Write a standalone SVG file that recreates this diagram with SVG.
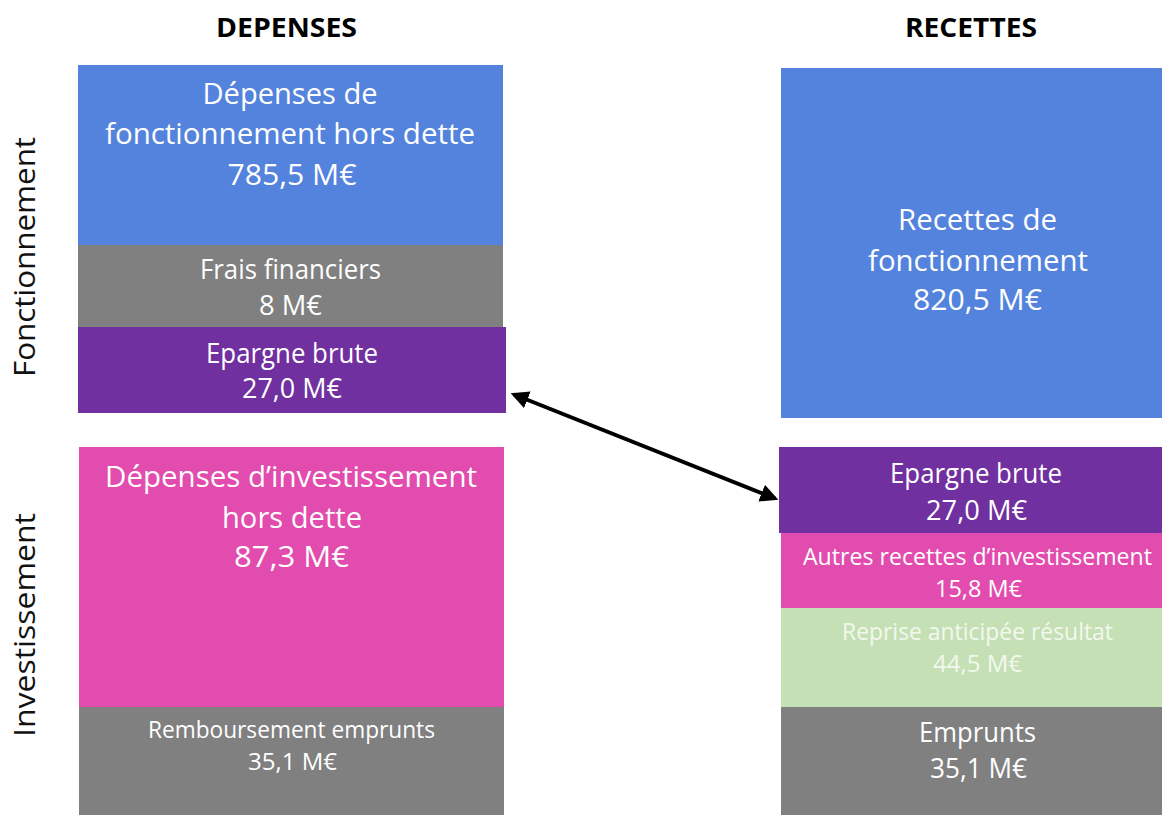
<svg xmlns="http://www.w3.org/2000/svg" width="1162" height="815" viewBox="0 0 1162 815">
<style>
text{font-family:"Open Sans","Noto Sans","Liberation Sans",sans-serif;text-anchor:middle;fill:#ffffff}
.hdr{font-weight:bold;font-size:26px;fill:#000000}
.side{font-size:30px;fill:#111111}
.big{font-size:30px}
.mid{font-size:26.5px}
.sm{font-size:23.5px}
.blue{fill:#5483DD}
.gray{fill:#808080}
.purple{fill:#7030A0}
.pink{fill:#E24CAE}
.green{fill:#C5E0B4}
.gtxt{fill:#F3F8EF}
</style>
<defs>
<marker id="ah" viewBox="0 0 10 10" refX="8" refY="5" markerWidth="4.5" markerHeight="4.5" orient="auto-start-reverse" markerUnits="strokeWidth">
<path d="M0,0 L10,5 L0,10 z" fill="#000000"/>
</marker>
</defs>
<rect width="1162" height="815" fill="#ffffff"/>
<g id="headers">
<text class="hdr" x="286.5" y="37" textLength="141" lengthAdjust="spacingAndGlyphs">DEPENSES</text>
<text class="hdr" x="971" y="37" textLength="132" lengthAdjust="spacingAndGlyphs">RECETTES</text>
</g>
<g id="side-labels">
<text class="side" transform="translate(35,257) rotate(-90)" x="0" y="0" textLength="240" lengthAdjust="spacingAndGlyphs">Fonctionnement</text>
<text class="side" transform="translate(35,625) rotate(-90)" x="0" y="0" textLength="224" lengthAdjust="spacingAndGlyphs">Investissement</text>
</g>
<g id="dep-fonct">
<rect class="blue" x="78" y="65" width="425" height="180"/>
<text class="big" x="290" y="104" textLength="175" lengthAdjust="spacingAndGlyphs">Dépenses de</text>
<text class="big" x="290" y="144" textLength="370" lengthAdjust="spacingAndGlyphs">fonctionnement hors dette</text>
<text class="big" x="292" y="185" textLength="129" lengthAdjust="spacingAndGlyphs">785,5 M€</text>
</g>
<g id="frais-fin">
<rect class="gray" x="78" y="245" width="425" height="82"/>
<text class="mid" x="290.5" y="279" textLength="181" lengthAdjust="spacingAndGlyphs">Frais financiers</text>
<text class="mid" x="290.5" y="315" textLength="63" lengthAdjust="spacingAndGlyphs">8 M€</text>
</g>
<g id="epargne-dep">
<rect class="purple" x="78" y="327" width="428" height="86"/>
<text class="mid" x="292" y="363" textLength="172" lengthAdjust="spacingAndGlyphs">Epargne brute</text>
<text class="mid" x="292" y="398" textLength="100" lengthAdjust="spacingAndGlyphs">27,0 M€</text>
</g>
<g id="dep-invest">
<rect class="pink" x="79" y="447" width="425" height="260"/>
<text class="big" x="291" y="487" textLength="372" lengthAdjust="spacingAndGlyphs">Dépenses d’investissement</text>
<text class="big" x="292" y="528" textLength="140" lengthAdjust="spacingAndGlyphs">hors dette</text>
<text class="big" x="291.5" y="567" textLength="115" lengthAdjust="spacingAndGlyphs">87,3 M€</text>
</g>
<g id="rembours">
<rect class="gray" x="79" y="707" width="425" height="108"/>
<text class="sm" x="291.5" y="738" textLength="287" lengthAdjust="spacingAndGlyphs">Remboursement emprunts</text>
<text class="sm" x="292.5" y="770" textLength="89" lengthAdjust="spacingAndGlyphs">35,1 M€</text>
</g>
<g id="rec-fonct">
<rect class="blue" x="781" y="68" width="381" height="350"/>
<text class="big" x="977.5" y="230" textLength="159" lengthAdjust="spacingAndGlyphs">Recettes de</text>
<text class="big" x="978" y="271" textLength="220" lengthAdjust="spacingAndGlyphs">fonctionnement</text>
<text class="big" x="977.5" y="310" textLength="129" lengthAdjust="spacingAndGlyphs">820,5 M€</text>
</g>
<g id="epargne-rec">
<rect class="purple" x="779" y="447" width="383" height="86"/>
<text class="mid" x="976" y="483" textLength="172" lengthAdjust="spacingAndGlyphs">Epargne brute</text>
<text class="mid" x="976.5" y="520" textLength="101" lengthAdjust="spacingAndGlyphs">27,0 M€</text>
</g>
<g id="autres-rec">
<rect class="pink" x="781" y="533" width="381" height="75"/>
<text class="sm" x="977.5" y="565" textLength="349" lengthAdjust="spacingAndGlyphs">Autres recettes d’investissement</text>
<text class="sm" x="978.5" y="597" textLength="87" lengthAdjust="spacingAndGlyphs">15,8 M€</text>
</g>
<g id="reprise">
<rect class="green" x="781" y="608" width="381" height="99"/>
<text class="sm gtxt" x="977.5" y="640" textLength="271" lengthAdjust="spacingAndGlyphs">Reprise anticipée résultat</text>
<text class="sm gtxt" x="977.5" y="672" textLength="89" lengthAdjust="spacingAndGlyphs">44,5 M€</text>
</g>
<g id="emprunts">
<rect class="gray" x="781" y="707" width="381" height="108"/>
<text class="mid" x="977.5" y="742" textLength="117" lengthAdjust="spacingAndGlyphs">Emprunts</text>
<text class="mid" x="978.5" y="778" textLength="97" lengthAdjust="spacingAndGlyphs">35,1 M€</text>
</g>
<g id="connectors">
<line x1="514" y1="394.5" x2="775" y2="498.5" stroke="#000000" stroke-width="4" marker-start="url(#ah)" marker-end="url(#ah)"/>
</g>
</svg>
